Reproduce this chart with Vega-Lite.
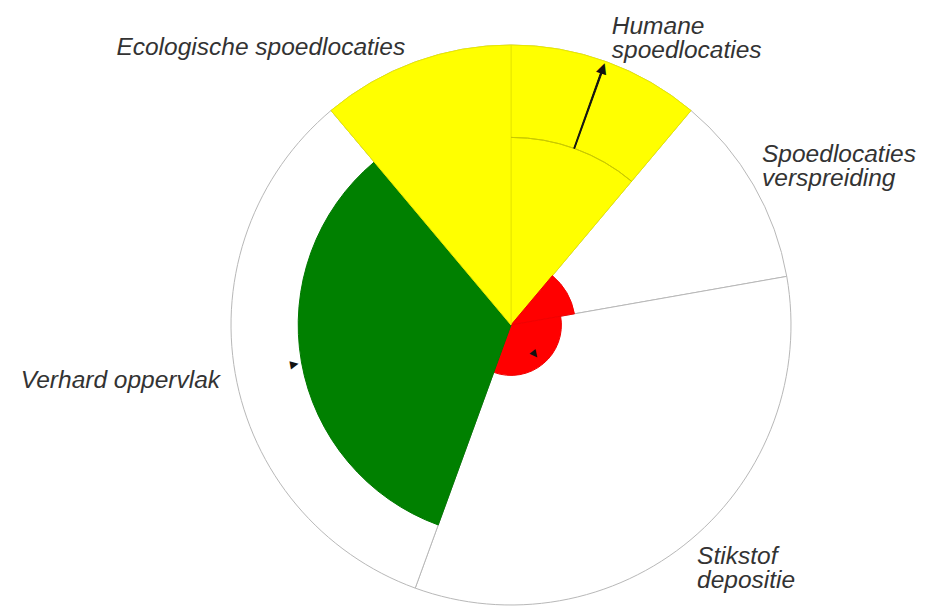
{
  "$schema": "https://vega.github.io/schema/vega-lite/v6.json",
  "width": 842,
  "height": 566,
  "autosize": "none",
  "padding": {"left": 90, "top": 42, "right": 0, "bottom": 0},
  "background": "white",
  "config": {"view": {"stroke": null}},
  "datasets": {
    "sectors": [
      {"indicator": "Humane spoedlocaties", "start": 0, "end": 40, "value": 100, "status": "geel"},
      {"indicator": "Spoedlocaties verspreiding", "start": 40, "end": 80, "value": 23, "status": "rood"},
      {"indicator": "Stikstof depositie", "start": 80, "end": 200, "value": 18, "status": "rood"},
      {"indicator": "Verhard oppervlak", "start": 200, "end": 320, "value": 76, "status": "groen"},
      {"indicator": "Ecologische spoedlocaties", "start": 320, "end": 360, "value": 100, "status": "geel"}
    ],
    "reference": [
      {"indicator": "Humane spoedlocaties", "start": 0, "end": 40, "ref": 67}
    ],
    "shafts": [
      {"indicator": "Humane spoedlocaties", "a0": 19.55, "a1": 19.85, "from": 67, "to": 97}
    ],
    "heads": [
      {"indicator": "Humane spoedlocaties", "theta": 19.7, "r": 97.5, "dir": 19.7, "size": 14},
      {"indicator": "Stikstof depositie", "theta": 141.3, "r": 13.6, "dir": 141.3, "size": 10},
      {"indicator": "Verhard oppervlak", "theta": 259.6, "r": 78.6, "dir": 79.6, "size": 11}
    ],
    "labelsLeft": [
      {"label": "Humane\nspoedlocaties", "theta": 19.1, "r": 110.0},
      {"label": "Spoedlocaties\nverspreiding", "theta": 57.0, "r": 106.9},
      {"label": "Stikstof\ndepositie", "theta": 142.1, "r": 108.2}
    ],
    "labelsRight": [
      {"label": "Ecologische spoedlocaties", "theta": 338.6, "r": 103.6},
      {"label": "Verhard oppervlak", "theta": 257.8, "r": 106.3}
    ]
  },
  "layer": [
    {
      "data": {"name": "sectors"},
      "mark": {"type": "arc", "fill": "white", "stroke": "#b8b8b8", "strokeWidth": 1},
      "encoding": {
        "theta": {"field": "start", "type": "quantitative", "stack": null, "scale": {"domain": [0, 360], "range": [0, 6.283185307179586]}},
        "theta2": {"field": "end"},
        "radius": {"datum": 100, "type": "quantitative", "scale": {"type": "linear", "domain": [0, 100], "range": [0, 280], "zero": true, "nice": false}}
      }
    },
    {
      "data": {"name": "sectors"},
      "mark": {"type": "arc", "strokeWidth": 1},
      "encoding": {
        "theta": {"field": "start", "type": "quantitative", "stack": null, "scale": {"domain": [0, 360], "range": [0, 6.283185307179586]}},
        "theta2": {"field": "end"},
        "radius": {"field": "value", "type": "quantitative", "scale": {"type": "linear", "domain": [0, 100], "range": [0, 280], "zero": true, "nice": false}},
        "fill": {"field": "status", "type": "nominal", "scale": {"domain": ["groen", "geel", "rood"], "range": ["#008000", "#ffff00", "#ff0000"]}, "legend": null},
        "stroke": {"field": "status", "type": "nominal", "scale": {"domain": ["groen", "geel", "rood"], "range": ["#007800", "#e8e800", "#f20000"]}, "legend": null}
      }
    },
    {
      "data": {"name": "reference"},
      "mark": {"type": "arc", "fillOpacity": 0, "stroke": "#c9c900", "strokeWidth": 1},
      "encoding": {
        "theta": {"field": "start", "type": "quantitative", "stack": null, "scale": {"domain": [0, 360], "range": [0, 6.283185307179586]}},
        "theta2": {"field": "end"},
        "radius": {"field": "ref", "type": "quantitative", "scale": {"type": "linear", "domain": [0, 100], "range": [0, 280], "zero": true, "nice": false}},
        "radius2": {"field": "ref"}
      }
    },
    {
      "data": {"name": "shafts"},
      "mark": {"type": "arc", "fill": "#111111", "stroke": "#111111", "strokeWidth": 1},
      "encoding": {
        "theta": {"field": "a0", "type": "quantitative", "stack": null, "scale": {"domain": [0, 360], "range": [0, 6.283185307179586]}},
        "theta2": {"field": "a1"},
        "radius": {"field": "to", "type": "quantitative", "scale": {"type": "linear", "domain": [0, 100], "range": [0, 280], "zero": true, "nice": false}},
        "radius2": {"field": "from"}
      }
    },
    {
      "data": {"name": "heads"},
      "mark": {"type": "text", "text": "▲", "font": "DejaVu Sans", "align": "center", "baseline": "middle", "color": "#111111"},
      "encoding": {
        "theta": {"field": "theta", "type": "quantitative", "stack": null, "scale": {"domain": [0, 360], "range": [0, 6.283185307179586]}},
        "radius": {"field": "r", "type": "quantitative", "scale": {"type": "linear", "domain": [0, 100], "range": [0, 280], "zero": true, "nice": false}},
        "angle": {"field": "dir", "type": "quantitative", "scale": null},
        "size": {"field": "size", "type": "quantitative", "scale": null}
      }
    },
    {
      "data": {"name": "labelsLeft"},
      "mark": {"type": "text", "align": "left", "baseline": "alphabetic", "font": "Liberation Sans", "fontStyle": "italic", "fontSize": 24.5, "lineHeight": 24, "lineBreak": "\n", "color": "#333333"},
      "encoding": {
        "theta": {"field": "theta", "type": "quantitative", "stack": null, "scale": {"domain": [0, 360], "range": [0, 6.283185307179586]}},
        "radius": {"field": "r", "type": "quantitative", "scale": {"type": "linear", "domain": [0, 100], "range": [0, 280], "zero": true, "nice": false}},
        "text": {"field": "label", "type": "nominal"}
      }
    },
    {
      "data": {"name": "labelsRight"},
      "mark": {"type": "text", "align": "right", "baseline": "alphabetic", "font": "Liberation Sans", "fontStyle": "italic", "fontSize": 24.5, "lineHeight": 24, "lineBreak": "\n", "color": "#333333"},
      "encoding": {
        "theta": {"field": "theta", "type": "quantitative", "stack": null, "scale": {"domain": [0, 360], "range": [0, 6.283185307179586]}},
        "radius": {"field": "r", "type": "quantitative", "scale": {"type": "linear", "domain": [0, 100], "range": [0, 280], "zero": true, "nice": false}},
        "text": {"field": "label", "type": "nominal"}
      }
    }
  ]
}
